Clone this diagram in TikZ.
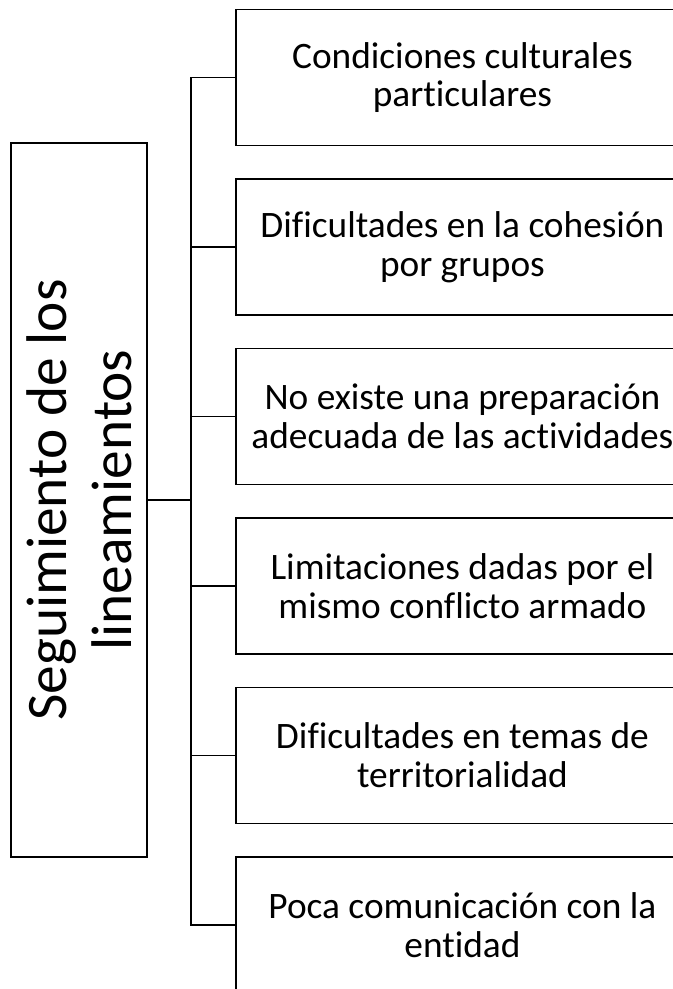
\documentclass[tikz,border=0pt]{standalone}
\usepackage{fontspec}
\setmainfont{Carlito}[Ligatures=CommonOff]
\tikzset{
  causa/.style={draw, line width=1.4pt, minimum width=339.75pt, minimum height=102pt,
    anchor=north west, align=center, inner sep=0pt,
    font=\fontsize{28}{29}\selectfont},
  seguim/.style={draw, line width=1.4pt, minimum width=102pt, minimum height=535.5pt,
    inner sep=0pt},
  enlace/.style={line width=1.4pt}
}

\begin{document}
\begin{tikzpicture}[line cap=rect,line join=miter,x=0.75pt,y=-0.75pt]
  \clip (0,0) rectangle (673,989);
  % caja principal
  \node[seguim] (seg) at (79,500) {};
  \node[rotate=90, align=center, inner sep=0pt,
    font=\fontsize{43}{48.5}\selectfont] (segtxt) at (seg.center) {Seguimiento de los\\lineamientos};
  % causas
  \node[causa] (c1) at (235,8.5) {Condiciones culturales\\particulares};
  \node[causa] (c2) at (235,178) {Dificultades en la cohesión\\por grupos};
  \node[causa] (c3) at (235,347.5) {No existe una preparación\\adecuada de las actividades};
  \node[causa] (c4) at (235,517) {Limitaciones dadas por el\\mismo conflicto armado};
  \node[causa] (c5) at (235,686.5) {Dificultades en temas de\\territorialidad};
  \node[causa] (c6) at (235,856) {Poca comunicación con la\\entidad};
  % conectores
  \coordinate (eje) at (191,0);
  \draw[enlace] (seg.east) -- (seg.east -| eje);
  \draw[enlace] (c1.west -| eje) -- (c6.west -| eje);
  \draw[enlace] (c1.west) -- (c1.west -| eje);
  \draw[enlace] (c2.west) -- (c2.west -| eje);
  \draw[enlace] (c3.west) -- (c3.west -| eje);
  \draw[enlace] (c4.west) -- (c4.west -| eje);
  \draw[enlace] (c5.west) -- (c5.west -| eje);
  \draw[enlace] (c6.west) -- (c6.west -| eje);
\end{tikzpicture}
\end{document}
